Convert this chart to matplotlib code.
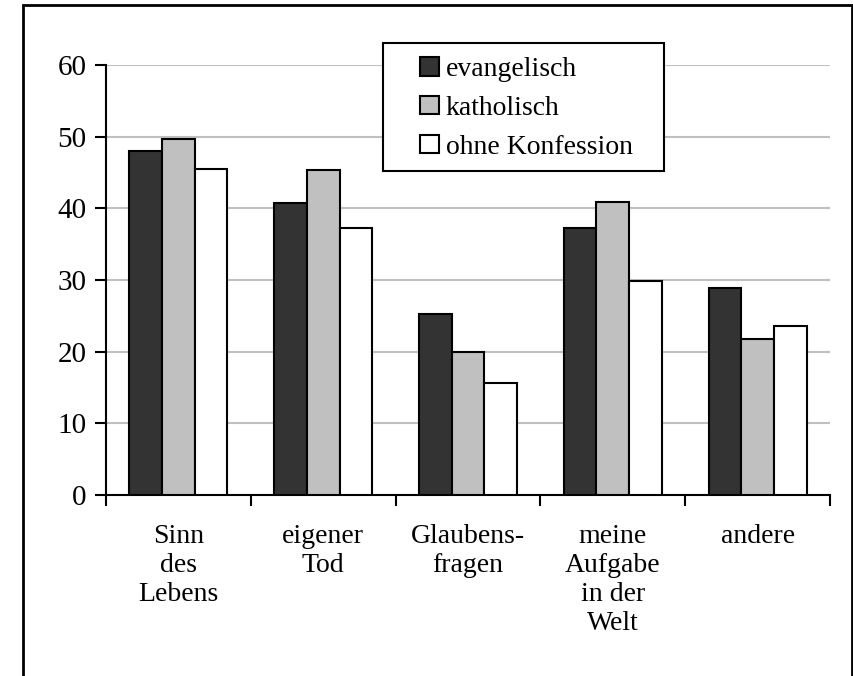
import matplotlib.pyplot as plt
import numpy as np
from matplotlib.patches import Rectangle

categories = ["Sinn\ndes\nLebens", "eigener\nTod", "Glaubens-\nfragen",
              "meine\nAufgabe\nin der\nWelt", "andere"]
series_names = ["evangelisch", "katholisch", "ohne Konfession"]
evangelisch = [48.0, 40.8, 25.3, 37.3, 28.9]
katholisch = [49.7, 45.4, 20.0, 40.9, 21.7]
ohne_konfession = [45.5, 37.3, 15.6, 29.8, 23.6]
colors = ["#333333", "#c0c0c0", "#ffffff"]

plt.rcParams["font.family"] = ["Liberation Serif", "DejaVu Serif"]

fig = plt.figure(figsize=(8.54, 6.76), dpi=100)
ax = fig.add_axes([0.1241, 0.2678, 0.8478, 0.636])

x = np.arange(len(categories))
width = 0.226
for i, (vals, name) in enumerate(zip([evangelisch, katholisch, ohne_konfession], series_names)):
    ax.bar(x + (i - 1) * width, vals, width, color=colors[i], edgecolor="black",
           linewidth=1.5, label=name, zorder=3)

ax.set_xlim(-0.5, len(categories) - 0.5)
ax.set_ylim(0, 60)
ax.set_yticks(range(0, 61, 10))
ax.yaxis.grid(True, color="#c0c0c0", linewidth=1.5, zorder=0)
ax.set_axisbelow(True)

ax.set_xticks(np.arange(len(categories) + 1) - 0.5)
ax.set_xticklabels([])
ax.set_xticks(x, minor=True)
ax.set_xticklabels(categories, minor=True, fontsize=20, linespacing=1.2, va="top")
ax.tick_params(axis="x", which="minor", length=0, pad=21)
ax.tick_params(axis="x", which="major", length=8, width=1.5, direction="out")
ax.tick_params(axis="y", length=8, width=1.5, labelsize=21, pad=6)

for s in ["top", "right"]:
    ax.spines[s].set_visible(False)
for s in ["left", "bottom"]:
    ax.spines[s].set_linewidth(1.5)

# legend box drawn separately, entries placed inside
W, H = 854, 676
ax.add_patch(Rectangle((383 / W, 1 - 171 / H), (664 - 383) / W, (171 - 43) / H,
                       transform=fig.transFigure, facecolor="white",
                       edgecolor="black", linewidth=1.5, zorder=4, clip_on=False))
leg = ax.legend(loc="upper left", bbox_to_anchor=(420 / W, 1 - 57 / H),
                bbox_transform=fig.transFigure, fontsize=20, frameon=False,
                handlelength=0.7, handleheight=0.65, handletextpad=0.22,
                labelspacing=0.5, borderpad=0, borderaxespad=0)
leg.set_zorder(5)

fig.patches.append(Rectangle((23 / W, -0.1), (852 - 23) / W, 1.1 - 5 / H,
                             transform=fig.transFigure, fill=False,
                             edgecolor="black", linewidth=2))

fig.savefig("out.png", dpi=100)
